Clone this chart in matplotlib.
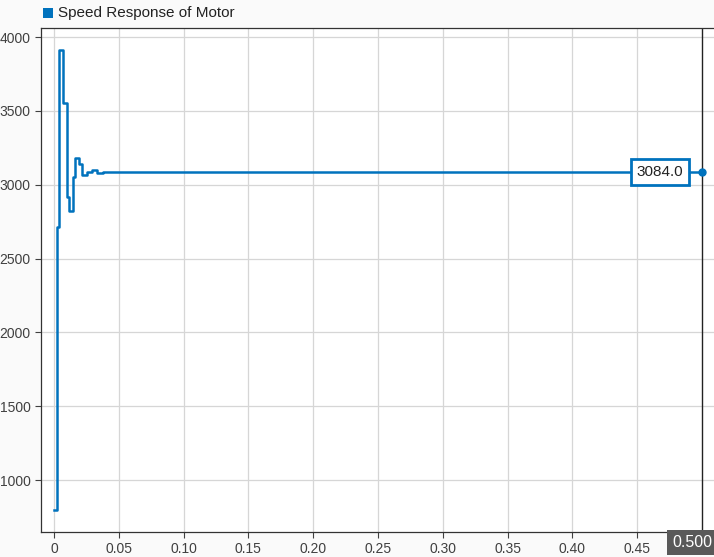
import matplotlib
matplotlib.use("Agg")
import matplotlib.pyplot as plt
import matplotlib.transforms as mtransforms

plt.rcParams['font.family'] = ['Liberation Sans', 'DejaVu Sans']

series_name = "Speed Response of Motor"
t = [0.0, 0.002, 0.0041, 0.0072, 0.0103, 0.0118, 0.0149, 0.0162, 0.0195, 0.0214, 0.0257, 0.0291, 0.0330, 0.0380, 0.5]
v = [800, 2715, 3911, 3555, 2918, 2825, 3050, 3178, 3143, 3065, 3088, 3100, 3080, 3084, 3084]
xticks = [0, 0.05, 0.10, 0.15, 0.20, 0.25, 0.30, 0.35, 0.40, 0.45]
xticklabels = ["0", "0.05", "0.10", "0.15", "0.20", "0.25", "0.30", "0.35", "0.40", "0.45"]
yticks = [1000, 1500, 2000, 2500, 3000, 3500, 4000]
cursor_t = 0.5
cursor_v = 3084.0

blue = '#0072BD'
fig = plt.figure(figsize=(7.14, 5.57), dpi=100, facecolor='#fafafa')
ax = fig.add_axes([41/714, (557-532)/557, (714-41)/714, (532-28)/557])
ax.set_facecolor('white')

ax.step(t, v, where='post', color=blue, lw=1.8)
ax.set_xlim(-0.010, 0.5093)
ax.set_ylim(648, 4061)

ax.set_xticks(xticks)
ax.set_xticklabels(xticklabels)
ax.set_yticks(yticks)
ax.tick_params(axis='both', direction='out', length=4, width=0.8, color='#404040',
               labelcolor='#404040', labelsize=10)
ax.grid(True, color='#d6d6d6', lw=0.9)
ax.set_axisbelow(True)
for s in ['left', 'bottom', 'top']:
    ax.spines[s].set_color('#333333')
    ax.spines[s].set_linewidth(0.9)
ax.spines['right'].set_visible(False)

# cursor line
ax.axvline(cursor_t, color='#222222', lw=1.0)
ax.plot([cursor_t], [cursor_v], 'o', color=blue, ms=5)
ax.text(0.4676, cursor_v, f"{cursor_v:.1f}", ha='center', va='center', fontsize=11,
        color='#222222',
        bbox=dict(boxstyle='square,pad=0.4', fc='white', ec=blue, lw=2.0))

# cursor value label on x axis
trans = mtransforms.blended_transform_factory(ax.transData, ax.transAxes)
ax.annotate("0.500", xy=(cursor_t, 0), xycoords=trans, xytext=(-7.2, -7.5),
            textcoords='offset points', ha='center', va='center', fontsize=11.5,
            color='white', annotation_clip=False,
            bbox=dict(boxstyle='square,pad=0.3', fc='#595959', ec='none'))

# legend
fig.patches.append(plt.Rectangle((43/714, 1-18/557), 10/714, 10/557, transform=fig.transFigure,
                                 fc=blue, ec='none'))
fig.text(58/714, 1-13.5/557, series_name, ha='left', va='center', fontsize=11, color='#222222')

fig.savefig("out.png", dpi=100, facecolor=fig.get_facecolor())
